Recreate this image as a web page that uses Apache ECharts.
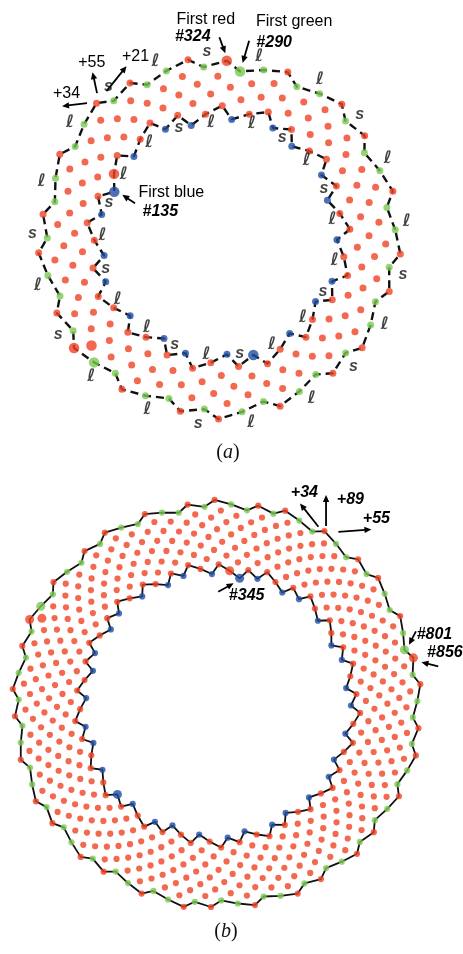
<!DOCTYPE html>
<html>
<head>
<meta charset="utf-8">
<script src="https://cdn.jsdelivr.net/npm/echarts@6/dist/echarts.min.js"></script>
<style>
html,body{margin:0;padding:0;background:#fff;}
#chart{width:463px;height:954px;}
</style>
</head>
<body>
<div id="chart"></div>
<script>
// ---- data: floret numbers (Vogel phyllotaxis, divergence = golden angle) ----
const divergenceDeg = 137.50776;
const panelNames = ['a', 'b'];
const firstFloret   = [135, 345];   // first (blue) floret of the inner edge
const lastBlue      = [155, 378];   // last blue floret
const lastInnerEdge = [189, 433];   // last floret on the inner boundary
const firstGreen    = [290, 801];   // first green floret
const firstOuterRed = [324, 856];   // first red floret of the outer rim
const lastFloret    = [344, 889];   // last floret
const enlarged = [
  [135, 155, 156, 289, 290, 323, 324, 344],
  [345, 378, 379, 800, 801, 855, 856, 889]
];

// ---- styling ----
const RED = '#ef4424', GREEN = '#7cc853', BLUE = '#1f4fa3';
const polarCenter = [[219, 237.5], [217, 704.5]];
const radiusMax = [20, 31];
const pxPerUnit = [9.83, 6.9];
const dotSmall = [7, 6.2], dotBig = [10.5, 9];

function ang(n) { return (((-n * divergenceDeg) % 360) + 360) % 360; }
function circMean(a1, a2) { const d = ((a2 - a1 + 540) % 360) - 180; return ((a1 + d / 2) % 360 + 360) % 360; }

const series = [];
const dotSeriesIndex = [];
for (let p = 0; p < 2; p++) {
  const pts = [];
  for (let n = firstFloret[p]; n <= lastFloret[p]; n++) {
    let kind = 'red';
    if (n <= lastBlue[p]) kind = 'blue';
    else if (n >= firstGreen[p] && n < firstOuterRed[p]) kind = 'green';
    pts.push({ n, r: Math.sqrt(n), a: ang(n), kind,
      inner: n <= lastInnerEdge[p], outer: n >= firstGreen[p] });
  }
  const outer = pts.filter(d => d.outer).sort((u, v) => u.a - v.a);
  const inner = pts.filter(d => d.inner).sort((u, v) => u.a - v.a);
  const ring = arr => arr.concat([arr[0]]).map(d => [d.r, d.a]);
  const lineStyle = p === 0 ? { color: '#111', width: 2.4, type: [8, 5] } : { color: '#111', width: 1.8 };
  series.push({ type: 'line', coordinateSystem: 'polar', polarIndex: p, data: ring(outer), symbol: 'none', lineStyle, z: 2, silent: true, animation: false });
  series.push({ type: 'line', coordinateSystem: 'polar', polarIndex: p, data: ring(inner), symbol: 'none', lineStyle, z: 2, silent: true, animation: false });
  const big = new Set(enlarged[p]);
  dotSeriesIndex[p] = series.length;
  [['red', RED], ['green', GREEN], ['blue', BLUE]].forEach(([k, col]) => {
    series.push({
      type: 'scatter', coordinateSystem: 'polar', polarIndex: p,
      data: pts.filter(d => d.kind === k).map(d => ({ value: [d.r, d.a], n: d.n })),
      symbol: 'circle',
      symbolSize: (v, prm) => big.has(prm.data.n) ? dotBig[p] : dotSmall[p],
      itemStyle: { color: col }, z: 3, silent: true, animation: false
    });
  });
  if (p === 0) {
    // l / s labels : spans between rim reds (outer) and between blues (inner)
    const labels = [];
    const spans = (list, isMarker, dr) => {
      const idx = [];
      list.forEach((d, i) => { if (isMarker(d)) idx.push(i); });
      for (let k = 0; k < idx.length; k++) {
        const i = idx[k], j = idx[(k + 1) % idx.length];
        const between = (j - i - 1 + list.length) % list.length;
        const A = list[i], B = list[j];
        labels.push({ name: between >= 2 ? 'l' : 's', value: [(A.r + B.r) / 2 + dr, circMean(A.a, B.a)] });
      }
    };
    spans(outer, d => d.n >= firstOuterRed[p], 0.75);
    spans(inner, d => d.kind === 'blue', -0.15);
    series.push({
      type: 'scatter', coordinateSystem: 'polar', polarIndex: 0, data: labels,
      symbolSize: 0, z: 4, silent: true, animation: false,
      label: { show: true, position: 'inside',
        formatter: prm => prm.data.name === 'l' ? '{l|ℓ}' : '{s|s}',
        rich: {
          l: { fontFamily: 'DejaVu Sans', fontStyle: 'italic', fontWeight: 'bold', fontSize: 17, color: '#111' },
          s: { fontFamily: '"Liberation Sans", Arial', fontStyle: 'italic', fontWeight: 'bold', fontSize: 16, color: '#111' }
        } }
    });
  }
}

const chart = echarts.init(document.getElementById('chart'), null, { renderer: 'canvas' });
chart.setOption({
  animation: false,
  backgroundColor: '#fff',
  polar: [0, 1].map(p => ({ center: polarCenter[p], radius: radiusMax[p] * pxPerUnit[p] })),
  angleAxis: [0, 1].map(p => ({ polarIndex: p, type: 'value', min: 0, max: 360, startAngle: 0, clockwise: false, show: false })),
  radiusAxis: [0, 1].map(p => ({ polarIndex: p, type: 'value', min: 0, max: radiusMax[p], show: false })),
  series
});

// ---- annotations anchored on their florets ----
const SANS = '"Liberation Sans", Arial, sans-serif';
const annotations = [
  { p: 0, n: 324, texts: [['First red', -21, -41, ''], ['#324', -34, -24, 'bi']], arrows: [[-7.4, -23.5, -1.5, -7.5]] },
  { p: 0, n: 290, texts: [['First green', 54, -50, ''], ['#290', 34, -29, 'bi']], arrows: [[9, -30.7, 2.5, -8.5]] },
  { p: 0, n: 135, texts: [['First blue', 57, 1, ''], ['#135', 46, 20, 'bi']], arrows: [[20.7, 11.4, 8, 3]] },
  { p: 0, n: 342, texts: [['+34', -30, -10, ''], ['+55', -4.7, -40.5, ''], ['+21', 39, -46.5, '']],
    arrows: [[-9.5, 0, -34.5, 3], [0.5, -10, -4, -31], [10, -12, 30, -37]] },
  { p: 1, n: 345, texts: [['#345', 7, 17, 'bi']], arrows: [[-21.4, 13.4, -6, 5]] },
  { p: 1, n: 874, texts: [['+34', -20, -39, 'bi'], ['+89', 26, -32, 'bi'], ['+55', 52, -13, 'bi']],
    arrows: [[-6, -4.3, -24.4, -27.7], [1.6, -5, 1.6, -36], [14, 0.7, 47, -1.7]] },
  { p: 1, n: 801, texts: [['#801', 30, -15, 'bi']], arrows: [[11.5, -18.3, 4.5, -5]] },
  { p: 1, n: 856, texts: [['#856', 31.5, -5, 'bi']], arrows: [[24.8, 8.6, 8, 4.4]] }
];
const graphics = [];
function arrow(x1, y1, x2, y2) {
  const dx = x2 - x1, dy = y2 - y1, L = Math.hypot(dx, dy), ux = dx / L, uy = dy / L;
  const hl = 7, hw = 3.2;
  const bx = x2 - ux * hl, by = y2 - uy * hl;
  graphics.push({ type: 'line', shape: { x1, y1, x2: bx + ux, y2: by + uy }, style: { stroke: '#000', lineWidth: 1.8 }, silent: true });
  graphics.push({ type: 'polygon', shape: { points: [[x2, y2], [bx - uy * hw, by + ux * hw], [bx + uy * hw, by - ux * hw]] }, style: { fill: '#000' }, silent: true });
}
annotations.forEach(an => {
  const kindSeries = an.n <= lastBlue[an.p] ? 2 : (an.n >= firstGreen[an.p] && an.n < firstOuterRed[an.p] ? 1 : 0);
  const px = chart.convertToPixel({ seriesIndex: dotSeriesIndex[an.p] + kindSeries }, [Math.sqrt(an.n), ang(an.n)]);
  an.texts.forEach(([t, ox, oy, st]) => {
    graphics.push({ type: 'text', x: px[0] + ox, y: px[1] + oy, silent: true,
      style: { text: t, align: 'center', verticalAlign: 'middle', fill: '#000',
        font: (st === 'bi' ? 'italic bold ' : '') + '16px ' + SANS } });
  });
  an.arrows.forEach(([a, b, c, d]) => arrow(px[0] + a, px[1] + b, px[0] + c, px[1] + d));
});
// panel captions
[[0, 453], [1, 932]].forEach(([p, y]) => {
  graphics.push({ type: 'text', x: polarCenter[p][0] + 9, y, silent: true,
    style: { text: '{p|(}{i|' + panelNames[p] + '}{p|)}', align: 'center', verticalAlign: 'middle',
      rich: { p: { font: '20px "Liberation Serif", serif', fill: '#111' }, i: { font: 'italic 20px "Liberation Serif", serif', fill: '#111' } } } });
});
chart.setOption({ graphic: graphics });
</script>
</body>
</html>
